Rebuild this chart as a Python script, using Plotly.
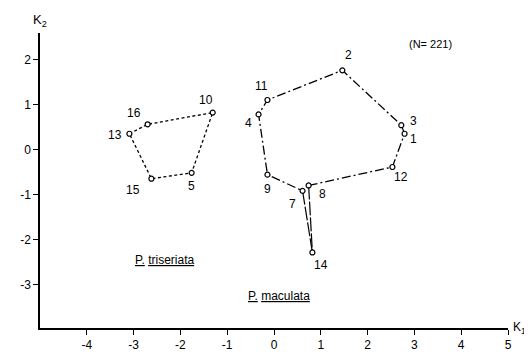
import plotly.graph_objects as go

# Discriminant scores (K1, K2) of the 16 populations
point_ids = ["1", "2", "3", "4", "5", "7", "8", "9", "10", "11", "12", "13", "14", "15", "16"]
k1 = [2.79, 1.46, 2.72, -0.33, -1.76, 0.61, 0.74, -0.14, -1.31, -0.14, 2.53, -3.09, 0.82, -2.62, -2.70]
k2 = [0.36, 1.77, 0.55, 0.79, -0.51, -0.91, -0.79, -0.55, 0.83, 1.11, -0.38, 0.36, -2.28, -0.64, 0.57]

triseriata_order = ["13", "16", "10", "5", "15", "13"]
maculata_order = ["8", "12", "1", "3", "2", "11", "4", "9", "7"]
tail_pairs = [["7", "14"], ["8", "14"]]

x_ticks = [-4, -3, -2, -1, 0, 1, 2, 3, 4, 5]
x_ticktext = ["-4", "-3", "-2", "-1", "0", "1", "2", "3", "4", "5"]
y_ticks = [-3, -2, -1, 0, 1, 2]
y_ticktext = ["-3", "-2", "-1", "0", "1", "2"]

# label offsets in pixels (style only)
label_shift = {
    "1": (9, -5), "2": (6, 15), "3": (12, 4), "4": (-10, -9), "5": (0, -13),
    "7": (-10, -13), "8": (14, -9), "9": (0, -14), "10": (-7, 13), "11": (-6, 14),
    "12": (9, -10), "13": (-14, -1), "14": (9, -13), "15": (-18, -11), "16": (-14, 11),
}

pos = {p: (x, y) for p, x, y in zip(point_ids, k1, k2)}

FONT = "Liberation Sans, Arial, sans-serif"
fig = go.Figure()

fig.add_trace(go.Scatter(
    x=[pos[p][0] for p in triseriata_order], y=[pos[p][1] for p in triseriata_order],
    mode="lines", line=dict(color="black", width=1.3, dash="3px,2.5px"), hoverinfo="skip"))
fig.add_trace(go.Scatter(
    x=[pos[p][0] for p in maculata_order], y=[pos[p][1] for p in maculata_order],
    mode="lines", line=dict(color="black", width=1.3, dash="9px,3px,2px,3px"), hoverinfo="skip"))
for a, b in tail_pairs:
    fig.add_trace(go.Scatter(
        x=[pos[a][0], pos[b][0]], y=[pos[a][1], pos[b][1]],
        mode="lines", line=dict(color="black", width=1.2, dash="14px,2px"), hoverinfo="skip"))

fig.add_trace(go.Scatter(
    x=k1, y=k2, mode="markers",
    marker=dict(symbol="circle", size=5, color="white", line=dict(color="black", width=1.2)),
    hoverinfo="skip"))

for p in point_ids:
    dx, dy = label_shift[p]
    fig.add_annotation(x=pos[p][0], y=pos[p][1], text=p, showarrow=False,
                       xshift=dx, yshift=dy, font=dict(family=FONT, size=12, color="black"))

fig.add_annotation(x=3.35, y=2.36, text="(N= 221)", showarrow=False,
                   font=dict(family=FONT, size=11, color="black"))
fig.add_annotation(x=-2.35, y=-2.45, text="<u>P.</u> <u>triseriata</u>", showarrow=False,
                   font=dict(family=FONT, size=12, color="black"))
fig.add_annotation(x=0.1, y=-3.25, text="<u>P.</u> <u>maculata</u>", showarrow=False,
                   font=dict(family=FONT, size=12, color="black"))
fig.add_annotation(xref="paper", yref="paper", x=0, y=1, xanchor="center", yanchor="bottom",
                   text="K<sub>2</sub>", showarrow=False, yshift=2,
                   font=dict(family=FONT, size=13, color="black"))
fig.add_annotation(xref="paper", yref="paper", x=1, y=0, xanchor="left", yanchor="middle",
                   text="K<sub>1</sub>", showarrow=False, xshift=3,
                   font=dict(family=FONT, size=12, color="black"))

fig.update_layout(
    width=532, height=356, margin=dict(l=32, r=32, t=25, b=23),
    paper_bgcolor="white", plot_bgcolor="white", showlegend=False,
    xaxis=dict(range=[-5.0, 5.0], showgrid=False, zeroline=False, showline=True,
               linecolor="black", linewidth=1.5, ticks="outside", ticklen=5,
               tickcolor="black", tickvals=x_ticks, ticktext=x_ticktext,
               tickfont=dict(family=FONT, size=12, color="black")),
    yaxis=dict(range=[-3.96, 2.6], showgrid=False, zeroline=False, showline=True,
               linecolor="black", linewidth=1.5, ticks="outside", ticklen=5,
               tickcolor="black", tickvals=y_ticks, ticktext=y_ticktext,
               tickfont=dict(family=FONT, size=12, color="black")),
)

fig.write_html("out.html")
